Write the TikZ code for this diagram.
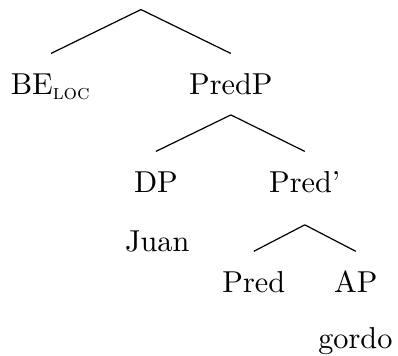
\documentclass[tikz,border=0pt]{standalone}
\usepackage{amsmath}
\begin{document}
\begin{tikzpicture}[cat/.style={anchor=base, inner xsep=0pt, inner ysep=6.5pt,
    text height=7pt, text depth=2pt}]
  \useasboundingbox (0, 0) rectangle (4.62, 4.13);

  % Top level
  \coordinate (root) at (1.636, 4.019);
  \node[cat] (be) at (0.592, 3.028) {BE$_{\textsc{loc}}$};
  \node[cat] (predp) at (2.680, 3.028) {PredP};
  \draw (root) -- (be.north);
  \draw (root) -- (predp.north);

  % PredP
  \coordinate (predp-fork) at (2.680, 2.796);
  \node[cat] (dp) at (1.810, 1.891) {DP};
  \node[cat] (predbar) at (3.538, 1.891) {Pred'};
  \draw (predp-fork) -- (dp.north);
  \draw (predp-fork) -- (predbar.north);
  \node[cat] (juan) at (1.825, 1.206) {Juan};

  % Pred'
  \coordinate (predbar-fork) at (3.538, 1.520);
  \node[cat] (pred) at (2.946, 0.731) {Pred};
  \node[cat] (ap) at (4.130, 0.731) {AP};
  \draw (predbar-fork) -- (pred.north);
  \draw (predbar-fork) -- (ap.north);
  \node[cat] (gordo) at (4.125, 0.081) {gordo};
\end{tikzpicture}
\end{document}
